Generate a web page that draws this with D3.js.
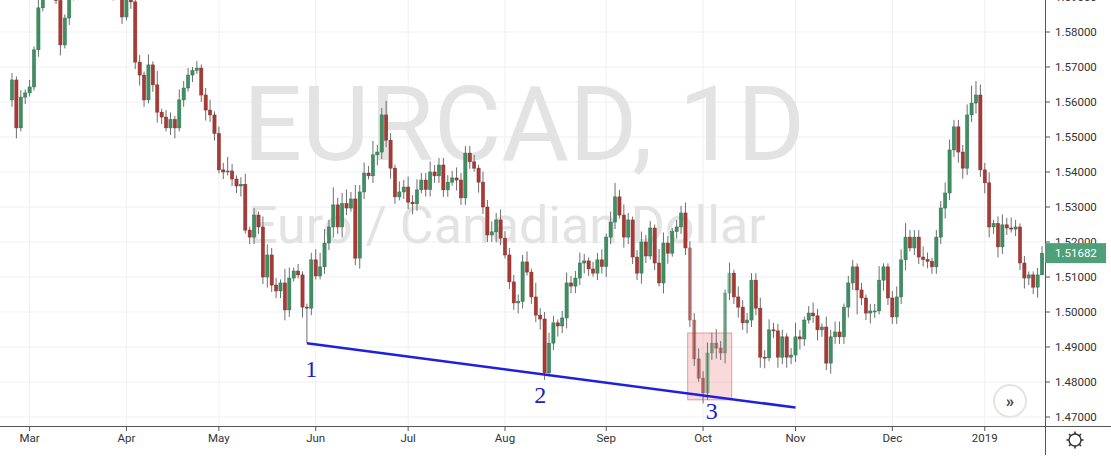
<!DOCTYPE html>
<html><head><meta charset="utf-8">
<script src="https://cdn.jsdelivr.net/npm/d3@7"></script>
<style>body{margin:0;background:#fff}svg{display:block;font-family:Roboto,"Noto Sans",sans-serif}</style>
</head><body><svg id="c" width="1111" height="470"></svg>
<script>
const closes=[1.5663,1.5526,1.5614,1.5626,1.5643,1.5749,1.5869,1.5920,1.5950,1.5930,1.5890,1.5763,1.5840,1.5920,
1.5950,1.5980,1.5960,1.5940,1.5970,1.5990,1.5960,1.5930,1.5950,1.5930,1.5940,1.5843,1.5920,1.5886,1.5714,
1.5677,1.5606,1.5706,1.5649,1.5571,1.5557,1.5526,1.5550,1.5526,1.5606,1.5640,1.5677,1.5690,1.5697,1.5620,
1.5577,1.5563,1.5510,1.5406,1.5400,1.5403,1.5380,1.5360,1.5365,1.5234,1.5214,1.5277,1.5243,1.5100,
1.5163,1.5077,1.5060,1.5083,1.5006,1.5097,1.5117,1.5106,1.5014,1.5011,1.5149,1.5103,1.5129,1.5197,1.5243,1.5306,
1.5243,1.5310,1.5297,1.5323,1.5154,1.5343,1.5397,1.5389,1.5449,1.5457,1.5563,1.5491,1.5411,1.5329,1.5343,
1.5357,1.5314,1.5309,1.5349,1.5377,1.5350,1.5400,1.5389,1.5420,1.5349,1.5371,1.5383,1.5377,1.5326,1.5454,1.5429,
1.5411,1.5371,1.5300,1.5220,1.5229,1.5263,1.5211,1.5163,1.5086,1.5026,1.5030,1.5143,
1.5114,1.5043,1.4991,1.4980,1.4826,1.4911,1.4969,1.4960,1.4983,1.5083,1.5074,1.5097,1.5140,1.5146,1.5123,
1.5111,1.5149,1.5130,1.5214,1.5257,1.5329,1.5277,1.5214,1.5263,1.5157,1.5111,1.5200,1.5160,1.5240,1.5140,
1.5083,1.5197,1.5168,1.5230,1.5243,1.5283,1.5183,1.4977,1.4866,1.4811,1.4769,1.4883,1.4911,1.4897,1.4883,
1.5054,1.5111,1.5043,1.5014,1.4969,1.4977,1.5091,1.5011,1.4871,1.4869,1.4949,1.4946,1.4871,
1.4929,1.4871,1.4877,1.4929,1.4923,1.4977,1.4997,1.4989,1.4949,1.4957,1.4854,1.4929,1.4943,1.4929,1.5014,
1.5083,1.5129,1.5063,1.5040,1.4997,1.5003,1.5003,1.5091,1.5129,1.5040,1.4986,1.5043,1.5149,1.5214,1.5183,
1.5214,1.5157,1.5150,1.5145,1.5129,1.5214,1.5297,1.5340,1.5463,1.5529,1.5457,1.5411,1.5563,1.5597,1.5620,
1.5406,1.5369,1.5243,1.5253,1.5186,1.5249,1.5240,1.5237,1.5243,1.5140,1.5097,1.5106,1.5071,1.5106,1.5168];
const firstOpen=1.5606;
// wick extensions in units of 0.001
const wickUp=[2,1,2,1,2,1,3,2,2,1,2,2,1,2, 2,2,1,2,2,1,2,2,1,2,2,2,1,2,1, 2,1,3,1,4,1,2,2,1,3,2,2,1,2,1, 2,3,1,2,2,4,2,1,2,3,1,2,1,3,
3,2,2,1,4,3,1,2,1,1,2,3,4,4,2,5, 2,3,4,2,4,2,3,2,4,2,2,4,2,1,3,2, 3,2,3,2,2,3,2,2,2,2,2,3,2, 2,2,2,1,3,2,3,2,3,2,2,2,
2,2,3,1,4,2,2,3,2,1,2,3,2,2,3,2,1,2,2,3,1,3,4,2,3,2,1,2,3,2,2,1,4,3,2,1,2,2,3,2,2,3,2,3,3,4,2,1,3,1,3,2,2,2,2,3,2,
3,2,2,2,1,2,4,2,1,2,3,2,1,3,2,3,3,1,2,2,1,2,1,2,2,4,1,1,2,3,3,4,2,2,2,3,2,1,2,2,3,3,2,2,2,3,5,4,3,2,3,1,2,3,2,3,2,1,2,1,1,2,2,3,2,1,2,0];
const wickDn=[2,3,1,2,1,1,2,1,2,2,1,3,1,2, 3,4,5,3,2,4,3,2,3,4,2,2,1,2,2, 3,2,1,2,3,2,1,2,3,1,2,1,2,1,2, 3,2,2,1,2,1,2,2,3,1,2,2,2,2,
3,2,2,2,3,2,1,1,3,10,2,1,1,2,2,3, 2,3,2,1,2,3,2,1,2,3,2,2,3,2,1,2, 2,3,2,1,2,2,2,2,2,2,1,3,2, 2,2,1,3,2,2,2,3,2,1,2,
2,3,2,1,2,2,3,2,1,2,3,2,3,2,2,2,3,2,1,2,2,3,2,2,1,3,2,2,2,3,2,1,2,1,3,3,1,2,2,2,2,2,1,3,2,2,3,2,3,2,2,3,2,3,2,2,3,
3,1,2,3,2,3,2,2,3,2,1,2,3,2,2,3,2,2,2,3,2,7,2,2,3,2,1,3,2,2,2,2,3,1,2,2,2,2,2,2,2,3,2,2,3,3,2,2,3,2,3,3,2,3,2,2,1,2,2,3,2,2,3,0];
const yTicks=[1.47,1.48,1.49,1.50,1.51,1.52,1.53,1.54,1.55,1.56,1.57,1.58,1.59];
const monthLabels=["Mar","Apr","May","Jun","Jul","Aug","Sep","Oct","Nov","Dec","2019"];
const monthIdx=[4,26,47,69,90,112,135,157,178,200,221];
const lastPrice=1.51682;
const trendStart=[67,1.4911], trendEnd=[178,1.4727];
const boxIdx=[153.5,163.5], boxPrice=[1.4749,1.4940];
const points=[{t:"1",i:68,p:1.4815},{t:"2",i:120,p:1.4740},{t:"3",i:159,p:1.4693}];

const svg=d3.select("#c");
const W=1045,H=426;
const n=closes.length;
const x=d3.scaleLinear().domain([0,n-1]).range([12,1042]);
const y=d3.scaleLinear().domain([1.47,1.58]).range([417,32]);
const gGrid=svg.append("g");
yTicks.forEach(v=>gGrid.append("line").attr("x1",0).attr("x2",W).attr("y1",y(v)).attr("y2",y(v)).attr("stroke","#eef0f4"));
monthIdx.forEach(i=>gGrid.append("line").attr("x1",x(i)).attr("x2",x(i)).attr("y1",0).attr("y2",H).attr("stroke","#eef0f4"));
svg.append("text").attr("x",243).attr("y",160).attr("font-size",104).attr("fill","#e3e3e3").text("EURCAD, 1D");
svg.append("text").attr("x",248).attr("y",243).attr("font-size",52).attr("fill","#e3e3e3").text("Euro / Canadian Dollar");
svg.append("clipPath").attr("id","cp").append("rect").attr("width",W).attr("height",H);
const g=svg.append("g").attr("clip-path","url(#cp)");
g.append("rect").attr("x",x(boxIdx[0])).attr("width",x(boxIdx[1])-x(boxIdx[0])).attr("y",y(boxPrice[1])).attr("height",y(boxPrice[0])-y(boxPrice[1]))
 .attr("fill","rgba(235,120,120,0.28)").attr("stroke","rgba(220,90,90,0.55)");
const bars=closes.map((c,i)=>{const o=i?closes[i-1]:firstOpen;return{i,o,c,h:Math.max(o,c)+wickUp[i]*0.001,l:Math.min(o,c)-wickDn[i]*0.001};});
const cg=g.selectAll("g.b").data(bars).join("g");
cg.append("line").attr("x1",d=>x(d.i)).attr("x2",d=>x(d.i)).attr("y1",d=>y(d.h)).attr("y2",d=>y(d.l)).attr("stroke","#6e6e6e").attr("stroke-width",1);
cg.append("rect").attr("x",d=>x(d.i)-1.6).attr("width",3.2).attr("y",d=>y(Math.max(d.o,d.c))).attr("height",d=>Math.max(1,Math.abs(y(d.o)-y(d.c))))
 .attr("fill",d=>d.c>=d.o?"#3f8f63":"#a83a35").attr("stroke",d=>d.c>=d.o?"#2f7450":"#8a2d2a").attr("stroke-width",0.5)
 .attr("opacity",d=>d.i>=154&&d.i<=163?0.6:1);
g.append("line").attr("x1",x(trendStart[0])).attr("y1",y(trendStart[1])).attr("x2",x(trendEnd[0])).attr("y2",y(trendEnd[1])).attr("stroke","#1f1fe0").attr("stroke-width",2.5);
points.forEach(p=>svg.append("text").attr("x",x(p.i)).attr("y",y(p.p)).attr("text-anchor","middle").attr("font-family","Liberation Serif,serif").attr("font-size",24).attr("fill","#2020c8").text(p.t));
svg.append("line").attr("x1",0).attr("x2",1111).attr("y1",H+0.5).attr("y2",H+0.5).attr("stroke","#555");
svg.append("line").attr("x1",W+0.5).attr("x2",W+0.5).attr("y1",0).attr("y2",455).attr("stroke","#555");
yTicks.forEach(v=>{svg.append("line").attr("x1",W).attr("x2",W+5).attr("y1",y(v)).attr("y2",y(v)).attr("stroke","#555");
 svg.append("text").attr("x",W+10).attr("y",y(v)+4).attr("font-size",11.5).attr("fill","#333").text(v.toFixed(5));});
monthIdx.forEach((i,k)=>{svg.append("line").attr("x1",x(i)).attr("x2",x(i)).attr("y1",H).attr("y2",H+5).attr("stroke","#555");
 svg.append("text").attr("x",x(i)).attr("y",H+16).attr("text-anchor","middle").attr("font-size",11.5).attr("fill","#333").text(monthLabels[k]);});
svg.append("rect").attr("x",W).attr("y",y(lastPrice)-10).attr("width",61).attr("height",20).attr("fill","#4f9f79");
svg.append("text").attr("x",W+10).attr("y",y(lastPrice)+4).attr("font-size",11.5).attr("fill","#fff").text(lastPrice.toFixed(5));
svg.append("circle").attr("cx",1010).attr("cy",401).attr("r",16).attr("fill","#fff").attr("stroke","#e4e4e4").attr("stroke-width",2);
svg.append("text").attr("x",1010).attr("y",407).attr("text-anchor","middle").attr("font-size",17).attr("font-weight","bold").attr("fill","#444").text("»");
const gear=svg.append("g").attr("transform","translate(1075,440)");
gear.append("circle").attr("r",6).attr("fill","none").attr("stroke","#333").attr("stroke-width",1.4);
d3.range(8).forEach(k=>{const a=k*Math.PI/4;gear.append("line").attr("x1",6*Math.cos(a)).attr("y1",6*Math.sin(a)).attr("x2",8.5*Math.cos(a)).attr("y2",8.5*Math.sin(a)).attr("stroke","#333").attr("stroke-width",1.6);});
</script></body></html>
